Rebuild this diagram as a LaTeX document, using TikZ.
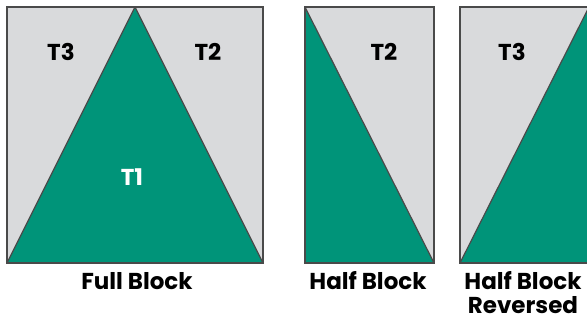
\documentclass[tikz,border=0pt]{standalone}
\usepackage{fontspec}
\setmainfont{Poppins}[BoldFont={Poppins Bold}]
\definecolor{tgreen}{HTML}{009479}
\definecolor{tgrey}{HTML}{D9DADC}
\definecolor{tedge}{HTML}{4A4A4A}
\tikzset{
  panel/.style={fill=tgrey, draw=tedge, line width=1.6pt},
  tri/.style={fill=tgreen, draw=tedge, line width=1.2pt, line join=round},
  tlabel/.style={font=\fontsize{23}{25}\selectfont\bfseries, text=black, inner sep=0pt},
  caption/.style={font=\fontsize{23}{23.5}\selectfont\bfseries, text=black, inner sep=0pt, anchor=base, align=center},
}
\begin{document}
\begin{tikzpicture}[x=1pt,y=1pt]
\useasboundingbox (0,0) rectangle (587,320);
\begin{scope}
\clip (0,0) rectangle (587,320);
% Full block
\draw[panel] (7,57) rectangle (263,313);
\draw[tri] (7,57) -- (135,313) -- (263,57) -- cycle;
\draw[panel, fill=none] (7,57) rectangle (263,313);
% Half block
\draw[panel] (305,57) rectangle (434,313);
\draw[tri] (305,313) -- (434,57) -- (305,57) -- cycle;
\draw[panel, fill=none] (305,57) rectangle (434,313);
% Half block reversed
\draw[panel] (460,57) rectangle (589,313);
\draw[tri] (460,57) -- (589,313) -- (589,57) -- cycle;
\draw[panel, fill=none] (460,57) rectangle (589,313);
\end{scope}
\node[tlabel] (t3a) at (61,268) {T3};
\node[tlabel] (t2a) at (208,268) {T2};
\node[tlabel, text=white] (t1a) at (132,143) {T1};
\node[tlabel] (t2b) at (384,268) {T2};
\node[tlabel] (t3b) at (512,268) {T3};
\node[caption] (c1) at (137,30) {Full Block};
\node[caption] (c2) at (368,30) {Half Block};
\node[caption] (c3) at (523,6.5) {Half Block\\Reversed};
\end{tikzpicture}
\end{document}
